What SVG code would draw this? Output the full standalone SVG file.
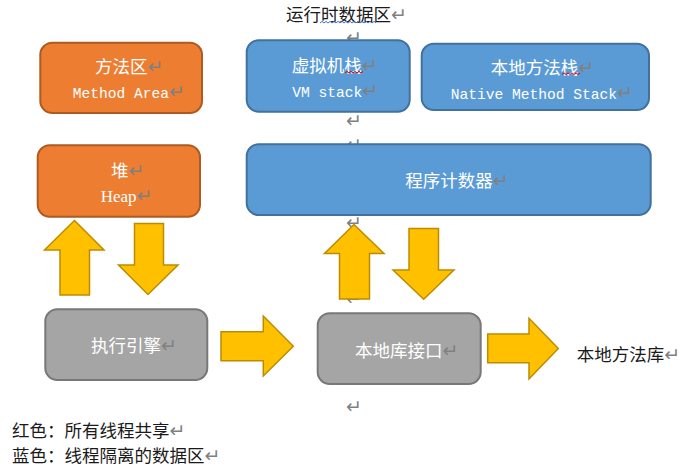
<svg xmlns="http://www.w3.org/2000/svg" width="681" height="475" viewBox="0 0 681 475">
<style>
.cn{font-family:"Noto Sans CJK SC","Noto Sans",sans-serif;font-size:17.5px}
.mono{font-family:"Liberation Mono","DejaVu Sans Mono",monospace;font-size:14.6px}
.ser{font-family:"Liberation Serif",serif;font-size:17px}
.w{fill:#ffffff}
.k{fill:#1a1a1a}
.rm{font-family:"DejaVu Sans",sans-serif;font-size:19px;fill:#808080}
.or{fill:#ED7D31;stroke:#AE5A21;stroke-width:2}
.bl{fill:#5B9BD5;stroke:#41719C;stroke-width:2}
.gr{fill:#A5A5A5;stroke:#787878;stroke-width:2}
.ar{fill:#FFC000;stroke:#BC8C00;stroke-width:1.5;stroke-linejoin:miter}
</style>
<rect width="681" height="475" fill="#ffffff"/>
<g id="paragraph-marks">
<text class="rm" x="346" y="44">↵</text>
<text class="rm" x="346" y="126.5">↵</text>
<text class="rm" x="346" y="151">↵</text>
<text class="rm" x="346" y="229">↵</text>
<text class="rm" x="346" y="305">↵</text>
<text class="rm" x="346" y="412.5">↵</text>
</g>
<g id="title">
<text class="cn k" x="286" y="20.5">运行时数据区<tspan class="rm">↵</tspan></text>
<path d="M320,23 l2,-1.6 l2,1.6 l2,-1.6 l2,1.6 l2,-1.6 l2,1.6 l2,-1.6 l2,1.6 l2,-1.6 l2,1.6 l2,-1.6 l2,1.6 l2,-1.6 l2,1.6 l2,-1.6 l2,1.6 l2,-1.6 l2,1.6 l2,-1.6 l2,1.6 l2,-1.6 l2,1.6 l2,-1.6 l2,1.6 l2,-1.6 l2,1.6 l2,-1.6 l2,1.6" fill="none" stroke="#4472C4" stroke-width="1"/>
</g>
<g id="method-area">
<rect class="or" x="40.3" y="42.7" width="161.7" height="70.3" rx="12"/>
<text class="cn w" x="95" y="73">方法区<tspan class="rm">↵</tspan></text>
<text class="mono w" x="72.7" y="97.5">Method Area<tspan class="rm">↵</tspan></text>
</g>
<g id="vm-stack">
<rect class="bl" x="246.7" y="40.3" width="163" height="71.4" rx="12"/>
<text class="cn w" x="291.7" y="72">虚拟机栈<tspan class="rm">↵</tspan></text>
<path d="M345,73 l2,-1.6 l2,1.6 l2,-1.6 l2,1.6 l2,-1.6 l2,1.6 l2,-1.6 l2,1.6 l2,-1.6" fill="none" stroke="#E00000" stroke-width="1"/>
<text class="mono w" x="292.3" y="96.5">VM stack<tspan class="rm">↵</tspan></text>
</g>
<g id="native-method-stack">
<rect class="bl" x="421.7" y="43.7" width="227.3" height="66.3" rx="12"/>
<text class="cn w" x="490.7" y="74">本地方法栈<tspan class="rm">↵</tspan></text>
<path d="M562,74.5 l2,-1.6 l2,1.6 l2,-1.6 l2,1.6 l2,-1.6 l2,1.6 l2,-1.6 l2,1.6 l2,-1.6" fill="none" stroke="#E00000" stroke-width="1"/>
<text class="mono w" x="450.7" y="98.8">Native Method Stack<tspan class="rm">↵</tspan></text>
</g>
<g id="heap">
<rect class="or" x="37.7" y="145.3" width="162.3" height="71.4" rx="12"/>
<text class="cn w" x="111" y="176.5">堆<tspan class="rm">↵</tspan></text>
<text class="ser w" x="100.7" y="201.5">Heap<tspan class="rm">↵</tspan></text>
</g>
<g id="program-counter">
<rect class="bl" x="246.7" y="144.3" width="404" height="70.7" rx="12"/>
<text class="cn w" x="405.3" y="187">程序计数器<tspan class="rm">↵</tspan></text>
</g>
<g id="execution-engine">
<rect class="gr" x="45.3" y="309.3" width="162" height="70.7" rx="12"/>
<text class="cn w" x="91" y="352">执行引擎<tspan class="rm">↵</tspan></text>
</g>
<g id="native-interface">
<rect class="gr" x="317.7" y="313.3" width="163" height="70.7" rx="12"/>
<text class="cn w" x="355" y="357">本地库接口<tspan class="rm">↵</tspan></text>
</g>
<g id="native-library">
<text class="cn k" x="576.7" y="360.5">本地方法库<tspan class="rm">↵</tspan></text>
</g>
<g id="connectors">
<polygon class="ar" points="74.5,220.5 104,250 89.5,250 89.5,295 60,295 60,250 44.5,250"/>
<polygon class="ar" points="134.5,223.5 163.5,223.5 163.5,265 178,265 148,294.5 118.5,265 134.5,265"/>
<polygon class="ar" points="354,224.5 384,253.5 369.5,253.5 369.5,299 339.5,299 339.5,253.5 324.5,253.5"/>
<polygon class="ar" points="409,228.5 438.5,228.5 438.5,270 454,270 423.7,299.3 393,270 409,270"/>
<polygon class="ar" points="221,331.7 263.3,331.7 263.3,316 293.3,346.2 263.3,376 263.3,360.7 221,360.7"/>
<polygon class="ar" points="487.7,334 529,334 529,318.3 558.3,348.5 529,379 529,362.7 487.7,362.7"/>
</g>
<g id="legend">
<text class="cn k" x="12" y="436.5">红色：所有线程共享<tspan class="rm">↵</tspan></text>
<text class="cn k" x="12" y="462">蓝色：线程隔离的数据区<tspan class="rm">↵</tspan></text>
</g>
</svg>
